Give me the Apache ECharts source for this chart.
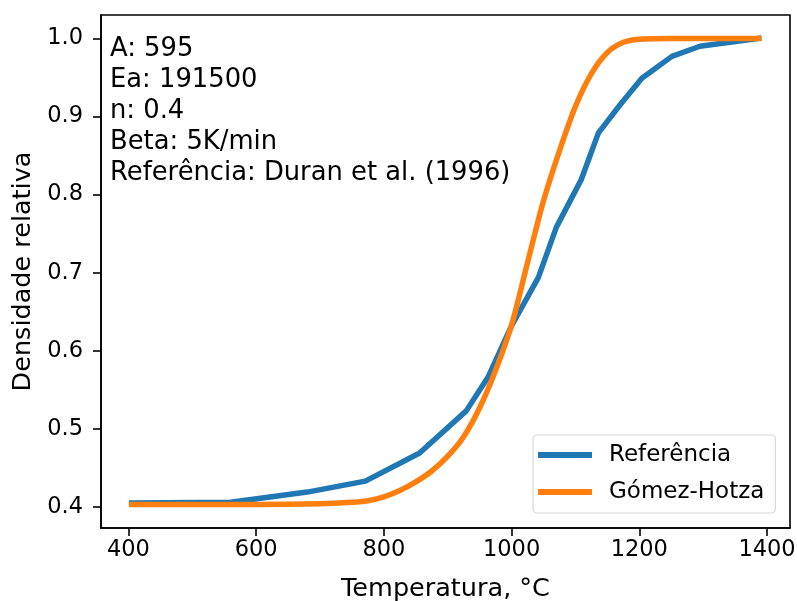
<!DOCTYPE html>
<html>
<head>
<meta charset="utf-8">
<script src="https://cdn.jsdelivr.net/npm/echarts@6/dist/echarts.min.js"></script>
<style>
html,body{margin:0;padding:0;background:#fff;}
#chart{width:797px;height:601px;}
</style>
</head>
<body>
<div id="chart"></div>
<script>
// ---- data ----
var seriesNames = ['Referência', 'Gómez-Hotza'];
var tempRef = [405, 560, 680, 771, 856, 929, 963, 1000, 1042, 1070, 1109, 1136, 1170, 1204, 1251, 1295, 1387];
var densRef = [0.405, 0.406, 0.419, 0.433, 0.469, 0.523, 0.566, 0.632, 0.694, 0.758, 0.819, 0.879, 0.915, 0.949, 0.977, 0.990, 1.000];
var tempGH = [405, 500, 600, 700, 750, 775, 800, 825, 850, 875, 900, 925, 950, 975, 1000, 1025, 1050, 1075, 1100, 1125, 1150, 1175, 1200, 1250, 1300, 1387];
var densGH = [0.403, 0.403, 0.403, 0.404, 0.406, 0.408, 0.413, 0.421, 0.432, 0.446, 0.465, 0.490, 0.527, 0.575, 0.633, 0.713, 0.792, 0.856, 0.913, 0.955, 0.982, 0.995, 0.999, 1.000, 1.000, 1.000];
var xTicks = [400, 600, 800, 1000, 1200, 1400];
var yTicks = [0.4, 0.5, 0.6, 0.7, 0.8, 0.9, 1.0];
var annotationLines = ['A: 595', 'Ea: 191500', 'n: 0.4', 'Beta: 5K/min', 'Referência: Duran et al. (1996)'];
var xLabel = 'Temperatura, °C';
var yLabel = 'Densidade relativa';

function zip(a, b) { return a.map(function (v, i) { return [v, b[i]]; }); }

var FONT = 'DejaVu Sans';
var chart = echarts.init(document.getElementById('chart'), null, {renderer: 'canvas'});
chart.setOption({
  animation: false,
  backgroundColor: '#fff',
  textStyle: {fontFamily: FONT, color: '#000'},
  grid: {left: 101, top: 15, right: 7, bottom: 73, containLabel: false, outerBoundsMode: 'none',
    show: true, borderColor: '#000', borderWidth: 1.6, backgroundColor: 'transparent'},
  xAxis: {
    type: 'value', min: 357, max: 1436,
    name: xLabel, nameLocation: 'middle', nameGap: 48,
    nameTextStyle: {fontFamily: FONT, fontSize: 25.5, color: '#000'},
    axisLine: {show: true, lineStyle: {color: '#000', width: 1.6}},
    axisTick: {show: true, inside: false, length: 8, lineStyle: {color: '#000', width: 1.6}, customValues: xTicks},
    axisLabel: {fontFamily: FONT, fontSize: 22.5, color: '#000', margin: 11, customValues: xTicks,
      formatter: function (v) { return String(Math.round(v)); }},
    splitLine: {show: false}
  },
  yAxis: {
    type: 'value', min: 0.373, max: 1.030,
    name: yLabel, nameLocation: 'middle', nameGap: 62, nameRotate: 90,
    nameTextStyle: {fontFamily: FONT, fontSize: 25.5, color: '#000'},
    axisLine: {show: true, lineStyle: {color: '#000', width: 1.6}},
    axisTick: {show: true, inside: false, length: 8, lineStyle: {color: '#000', width: 1.6}, customValues: yTicks},
    axisLabel: {fontFamily: FONT, fontSize: 22.5, color: '#000', margin: 18, customValues: yTicks,
      formatter: function (v) { return v.toFixed(1); }},
    splitLine: {show: false}
  },
  legend: {
    orient: 'vertical', left: 533, top: 435,
    padding: [7, 11, 8, 5], itemGap: 11,
    backgroundColor: '#fff', borderColor: '#d8d8d8', borderWidth: 1.2, borderRadius: 4,
    icon: 'rect', itemWidth: 54, itemHeight: 6,
    textStyle: {fontFamily: FONT, fontSize: 23, color: '#000', lineHeight: 26, padding: [0, 0, 0, 12]},
    data: seriesNames
  },
  graphic: [{
    type: 'text', left: 110, top: 34,
    style: {text: annotationLines.join('\n'), font: '25.8px "DejaVu Sans"', fill: '#000', lineHeight: 31}
  }],
  series: [
    {name: seriesNames[0], type: 'line', data: zip(tempRef, densRef), showSymbol: false, symbol: 'none',
     color: '#1f77b4', lineStyle: {color: '#1f77b4', width: 5.5, cap: 'square', join: 'round'}, z: 2},
    {name: seriesNames[1], type: 'line', data: zip(tempGH, densGH), showSymbol: false, symbol: 'none',
     smooth: 0.3,
     color: '#ff7f0e', lineStyle: {color: '#ff7f0e', width: 5.5, cap: 'square', join: 'round'}, z: 3}
  ]
});
</script>
</body>
</html>
